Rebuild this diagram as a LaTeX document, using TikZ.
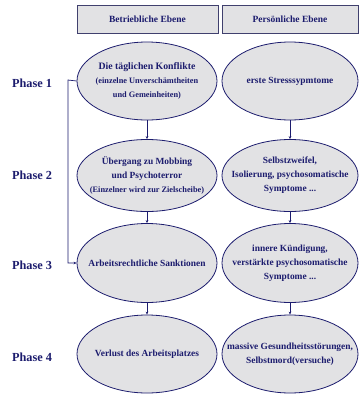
\documentclass[tikz,border=0pt]{standalone}
\usepackage{fontspec}
\setmainfont{Liberation Serif}
\usetikzlibrary{shapes.geometric,shadows,arrows.meta}
\definecolor{navy}{HTML}{1C1C6E}
\definecolor{efill}{HTML}{E2E2E4}
\definecolor{hborder}{HTML}{40406E}
\tikzset{
  x=1pt,y=1pt,
  hbox/.style={draw=hborder,line width=0.8pt,fill=efill,minimum width=141pt,minimum height=28pt,inner sep=0pt,
    font=\fontsize{9.5}{11}\selectfont\bfseries,text=navy,
    general shadow={shadow xshift=1.3pt,shadow yshift=-1.3pt,fill=gray!80!black}},
  ell/.style={ellipse,draw=navy,line width=0.8pt,fill=efill,inner xsep=-30pt,inner ysep=-25pt,align=center,text=navy,
    font=\fontsize{9.4}{14}\selectfont\bfseries},
  phase/.style={font=\fontsize{12.3}{14}\selectfont\bfseries,text=navy},
  conn/.style={draw=navy,line width=0.7pt,-{Stealth[length=3pt,width=2.6pt]}},
}
\newcommand{\sm}{\fontsize{8.3}{14}\selectfont}
\begin{document}
\begin{tikzpicture}
\useasboundingbox (0,0) rectangle (359,-394);
\fill[white] (0,0) rectangle (359,-394);
\node[hbox] (h1) at (147.5,-19) {Betriebliche Ebene};
\node[hbox,minimum width=136pt] (h2) at (290,-19) {Persönliche Ebene};

\node[phase] (p1) at (32,-83) {Phase 1};
\node[phase] (p2) at (32,-175) {Phase 2};
\node[phase] (p3) at (32,-265) {Phase 3};
\node[phase] (p4) at (32,-357) {Phase 4};

\node[ell,minimum width=140pt,minimum height=78pt] (l1) at (147,-81) {\fontsize{9.8}{14}\selectfont Die täglichen Konflikte\\ \sm(einzelne Unverschämtheiten\\ \sm und Gemeinheiten)};
\node[ell,minimum width=136pt,minimum height=78pt] (r1) at (290,-81) {erste Stresssypmtome};

\node[ell,minimum width=140pt,minimum height=72pt] (l2) at (147,-175.5) {Übergang zu Mobbing\\ und Psychoterror\\ \sm(Einzelner wird zur Zielscheibe)};
\node[ell,minimum width=136pt,minimum height=72pt] (r2) at (290,-175.5) {Selbstzweifel,\\ Isolierung, psychosomatische\\ Symptome ...};

\node[ell,minimum width=140pt,minimum height=79pt] (l3) at (147,-263) {Arbeitsrechtliche Sanktionen};
\node[ell,minimum width=136pt,minimum height=79pt] (r3) at (290,-263) {innere Kündigung,\\ verstärkte psychosomatische\\ Symptome ...};

\node[ell,minimum width=140pt,minimum height=78pt] (l4) at (147,-354) {Verlust des Arbeitsplatzes};
\node[ell,minimum width=136pt,minimum height=78pt] (r4) at (290,-354) {massive Gesundheitsstörungen,\\ Selbstmord(versuche)};

\draw[conn] (l1) -- (l2);
\draw[conn] (l2) -- (l3);
\draw[conn] (l3) -- (l4);
\draw[conn] (r1.south) -- (r2.north);
\draw[conn] (r2.south) -- (r3.north);
\draw[conn] (r3.south) -- (r4.north);
\coordinate (c1) at (68,-80);
\coordinate (c2) at (68,-263);
\draw[conn] (l1.west) -- (c1) -- (c2) -- (l3.west);
\end{tikzpicture}
\end{document}
